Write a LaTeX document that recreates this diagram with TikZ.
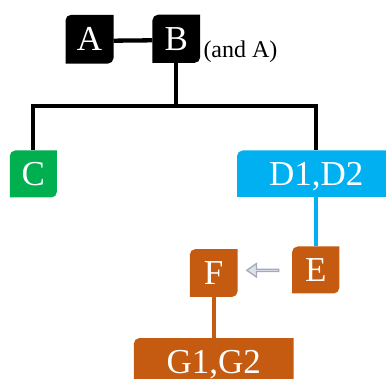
\documentclass[tikz,border=0pt]{standalone}
\usepackage{fontspec}
\setmainfont{Liberation Serif}
\usetikzlibrary{backgrounds,shapes.arrows}
\definecolor{cgreen}{HTML}{00B050}
\definecolor{cblue}{HTML}{00B0F0}
\definecolor{corange}{HTML}{C55A11}
\definecolor{arrfill}{HTML}{DCE1EA}
\definecolor{arrdraw}{HTML}{A3ABBA}
\tikzset{
  tb/.style={inner sep=0pt, text height=23.2pt, text depth=0pt,
    font=\fontsize{35}{40}\selectfont, text=white},
  conn/.style={line width=4.3pt},
}
\newcommand\tshape[2]{\fill[#2] (#1.south west) -- ([yshift=-5.5pt]#1.north west)
  arc[start angle=180,end angle=90,radius=5.5pt] -- (#1.north east)
  -- ([yshift=5.5pt]#1.south east) arc[start angle=0,end angle=-90,radius=5.5pt] -- cycle;}
\begin{document}
\begin{tikzpicture}
\useasboundingbox (0,0) rectangle (386pt,-379pt);
\clip (0,0) rectangle (386pt,-379pt);
\node[tb, minimum width=47.6pt, minimum height=48.3pt] (A) at (89.5pt,-39.2pt) {A};
\node[tb, minimum width=47.3pt, minimum height=47.7pt] (B) at (176.3pt,-38.8pt) {B};
\node[tb, minimum width=46.7pt, minimum height=46.6pt] (C) at (33.3pt,-174pt) {C};
\node[tb, minimum width=158pt, minimum height=46pt] (D) at (316.3pt,-173.7pt) {D1,D2};
\node[tb, minimum width=46.7pt, minimum height=46.6pt] (E) at (315.7pt,-270pt) {E};
\node[tb, minimum width=47.3pt, minimum height=47.4pt] (F) at (213.7pt,-273pt) {F};
\node[tb, minimum width=159.3pt, minimum height=46.6pt] (G) at (213.7pt,-361.6pt) {G1,G2};
\node[anchor=base west, inner sep=0pt, font=\fontsize{24}{28}\selectfont] (note) at (203.3pt,-57.3pt) {(and A)};
\node[single arrow, shape border rotate=180, draw=arrdraw, fill=arrfill, line width=1.3pt,
  minimum height=32pt, minimum width=13.5pt, single arrow head extend=3.3pt,
  single arrow tip angle=70, inner sep=0pt] (arr) at (263.6pt,-270.3pt) {};
\coordinate (bar) at (0pt,-106pt);
\begin{scope}[on background layer]
  \clip (0,0) rectangle (386pt,-379pt);
  \draw[conn] ([yshift=-1.5pt]A.east) -- ([yshift=-1.5pt]B.west);
  \draw[conn] (B.south) -- (B.south |- bar);
  \draw[conn] (C.north) -- (C.north |- bar) -- (D.north |- bar) -- (D.north);
  \draw[conn, cblue] (E.north |- D.south) -- (E.north);
  \draw[conn, corange] (F.south) -- (F.south |- G.north);
  \tshape{A}{black}
  \tshape{B}{black}
  \tshape{C}{cgreen}
  \tshape{D}{cblue}
  \tshape{E}{corange}
  \tshape{F}{corange}
  \tshape{G}{corange}
\end{scope}
\end{tikzpicture}
\end{document}
